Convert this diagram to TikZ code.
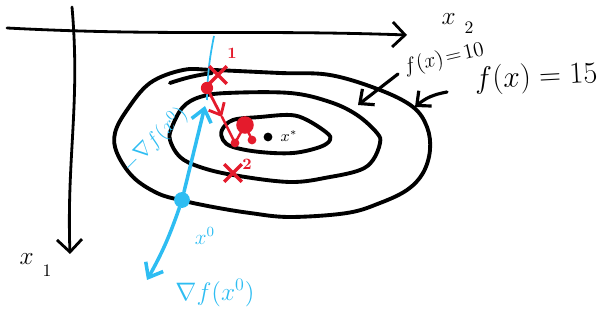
\documentclass[tikz,border=0pt]{standalone}
\usepackage{amsmath}
\usepackage{amssymb}
\usepackage{xcolor}
\usepackage{tikz}
\usetikzlibrary{arrows.meta,positioning,calc,shapes.misc}
\definecolor{penblue}{HTML}{2EBDF2}
\definecolor{penred}{HTML}{E41B2C}

\begin{document}
\begin{tikzpicture}[x=0.02cm, y=-0.02cm,
  every node/.style={inner sep=1pt},
  level/.style={line width=2.2pt, line cap=round, line join=round, black},
  axis/.style={line width=1.6pt, line cap=round, -{Straight Barb[length=2.5mm, width=5mm, line width=1.6pt]}},
  pointer/.style={line width=1.8pt, line cap=round, -{Straight Barb[length=2.2mm, width=4mm, line width=1.8pt]}},
  grad/.style={penblue, line width=2pt, line cap=round, -{Straight Barb[length=2.5mm, width=4mm, line width=2pt]}},
  iterate/.style={cross out, draw=penred, line width=2pt, minimum size=8pt, inner sep=0pt},
  step dot/.style={circle, fill=penred, minimum size=7pt, inner sep=0pt},
  start dot/.style={circle, fill=penblue, minimum size=9pt, inner sep=0pt}
]
\useasboundingbox (0,0) rectangle (606,327);

% Axes
\coordinate (origin2) at (7,28);
\coordinate (tip2) at (407,35);
\coordinate (origin1) at (72,7);
\coordinate (tip1) at (70,254);
\draw[axis] (origin2) to[out=-3, in=178] (tip2);
\draw[axis] (origin1) to[out=-85, in=92] (tip1);
\node[font=\Large] (lab2) at (458,24) {$x_{\hspace{5pt}\raisebox{-3pt}{\normalsize 2}}$};
\node[font=\Large] (lab1) at (36,265) {$x_{\hspace{5pt}\raisebox{-5pt}{\normalsize 1}}$};

% Level curves
\draw[level] plot[smooth cycle, tension=0.6] coordinates {
  (213,70) (280,73) (330,75) (380,90) (413,107) (427,127) (430,150)
  (423,173) (407,190) (380,203) (347,213) (290,217) (250,213) (213,207)
  (180,200) (157,193) (133,177) (117,153) (115,133) (127,110) (150,83) (183,70)};
\draw[level] (170,83) to[bend left=5] (212,73);
\draw[level] plot[smooth cycle, tension=0.6] coordinates {
  (227,93) (290,93) (330,102) (357,115) (377,133) (380,143) (373,160)
  (360,170) (330,177) (290,182) (233,175) (200,167) (180,157) (170,140)
  (172,127) (183,107) (200,97)};
\draw[level] plot[smooth cycle, tension=0.6] coordinates {
  (233,120) (260,117) (290,115) (307,120) (327,133) (330,140) (320,147)
  (293,153) (260,152) (233,147) (223,140) (222,130)};

% Minimum
\node[circle, fill=black, minimum size=5pt, inner sep=0pt] (xstar) at (268,137) {};
\node[font=\small] (xstarlab) at (289,136) {$x^{*}$};

% Level labels
\node[font=\large, rotate=13] (f10) at (444,59) {$f(x)\!=\!10$};
\node[font=\LARGE, rotate=3] (f15) at (536,78) {$f(x)=15$};
\coordinate (f10from) at (398,74);
\coordinate (f10to) at (358,105);
\coordinate (f15from) at (447,92);
\coordinate (f15to) at (415,107);
\draw[pointer] (f10from) -- (f10to);
\draw[pointer] (f15from) to[bend right=15] (f15to);

% Gradient at x^0
\node[start dot] (x0) at (182,200) {};
\coordinate (upgrad) at (205,106);
\coordinate (downgrad) at (147,280);
\coordinate (linetop) at (214,36);
\coordinate (linebot) at (207,100);
\draw[penblue, line width=1pt] (linetop) to[bend right=5] (linebot);
\draw[grad] (x0) -- (upgrad);
\draw[grad] (x0) to[bend left=5] (downgrad);
\node[penblue, font=\large, rotate=45] (neglab) at (155,140) {$-\nabla f(x^0)$};
\node[penblue, font=\large] (x0lab) at (205,236) {$x^0$};
\node[penblue, font=\Large] (gradlab) at (215,293) {$\nabla f(x^0)$};

% Iterates
\node[iterate] (it1) at (218,75) {};
\node[penred, font=\small\bfseries] (it1lab) at (232,53) {1};
\node[iterate] (it2) at (233,173) {};
\node[penred, font=\small\bfseries] (it2lab) at (247,164) {2};
\node[step dot] (s0) at (207,88) {};
\coordinate (s1) at (222,117);
\node[step dot, minimum size=5pt] (s2) at (235,143) {};
\node[step dot, minimum size=10pt] (s3) at (245,125) {};
\node[step dot, minimum size=5pt] (s4) at (252,140) {};
\draw[penred, line width=1.6pt, line cap=round, -{Straight Barb[length=2mm, width=3.5mm, line width=1.6pt]}] (s0) -- (s1);
\draw[penred, line width=1.4pt, line cap=round] (s1) -- (s2.center) -- (s3.center) -- (s4.center);

\end{tikzpicture}
\end{document}
